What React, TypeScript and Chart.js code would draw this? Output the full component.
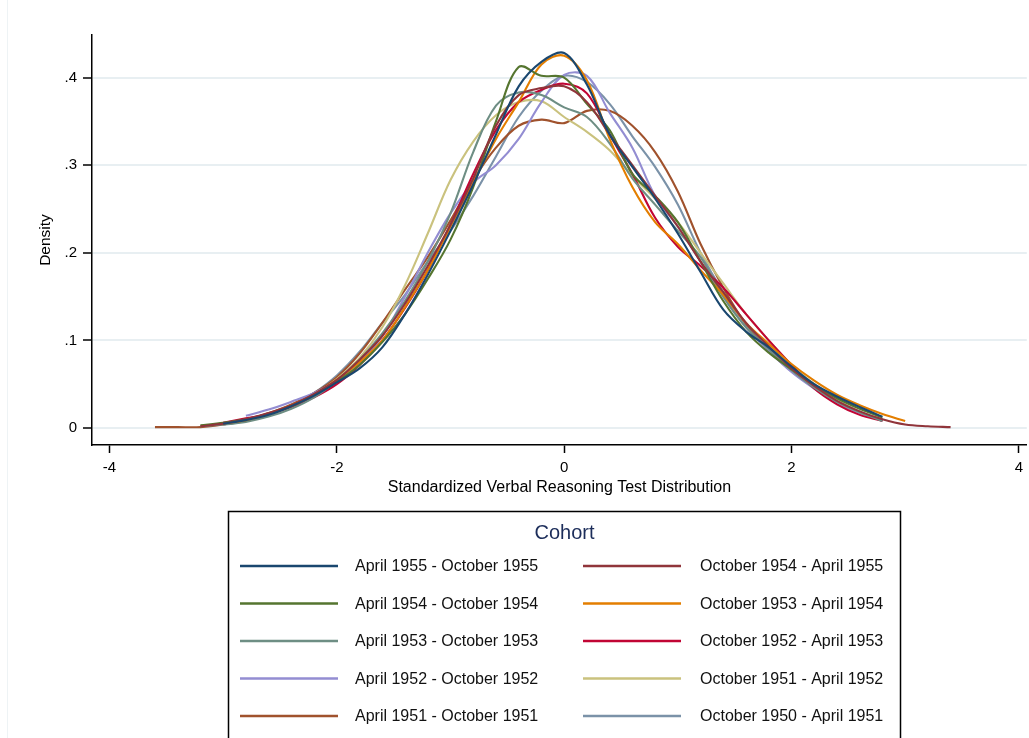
import React, { useEffect, useRef } from "react";
import { Chart, registerables } from "chart.js";

Chart.register(...registerables);

const xGrid = [
  -3.6, -3.4, -3.2, -3.0, -2.8, -2.6, -2.4, -2.2, -2.0, -1.8, -1.6, -1.4,
  -1.2, -1.0, -0.8, -0.6, -0.4, -0.2, 0.0, 0.2, 0.4, 0.6, 0.8, 1.0,
  1.2, 1.4, 1.6, 1.8, 2.0, 2.2, 2.4, 2.6, 2.8, 3.0, 3.2, 3.4,
];

const cohortLabels = [
  "April 1955 - October 1955",
  "October 1954 - April 1955",
  "April 1954 - October 1954",
  "October 1953 - April 1954",
  "April 1953 - October 1953",
  "October 1952 - April 1953",
  "April 1952 - October 1952",
  "October 1951 - April 1952",
  "April 1951 - October 1951",
  "October 1950 - April 1951",
];

const cohortColors = [
  "#1a476f", "#90353b", "#55752f", "#e37e00", "#6e8e84",
  "#c10534", "#938dd2", "#cac27e", "#a0522d", "#7b92a8",
];

const n = null;
const apr55 = [n, n, n, 0.005, 0.009, 0.015, 0.025, 0.037, 0.052, 0.068, 0.092, 0.13, 0.175, 0.225, 0.278, 0.335, 0.39, 0.418, 0.428, 0.392, 0.335, 0.298, 0.262, 0.222, 0.178, 0.135, 0.11, 0.092, 0.07, 0.05, 0.036, 0.024, 0.013, n, n, n];
const oct54 = [n, n, 0.002, 0.005, 0.01, 0.017, 0.026, 0.039, 0.055, 0.078, 0.105, 0.142, 0.185, 0.232, 0.285, 0.345, 0.38, 0.388, 0.39, 0.372, 0.335, 0.3, 0.265, 0.23, 0.19, 0.155, 0.12, 0.093, 0.068, 0.048, 0.031, 0.019, 0.01, 0.004, 0.002, 0.001];
const apr54 = [n, n, 0.003, 0.006, 0.01, 0.016, 0.025, 0.038, 0.053, 0.072, 0.098, 0.13, 0.17, 0.215, 0.275, 0.35, 0.412, 0.402, 0.4, 0.37, 0.34, 0.29, 0.265, 0.235, 0.19, 0.145, 0.11, 0.086, 0.067, 0.049, 0.034, 0.022, 0.012, n, n, n];
const oct53 = [n, n, n, 0.005, 0.009, 0.016, 0.026, 0.038, 0.055, 0.075, 0.1, 0.138, 0.18, 0.23, 0.28, 0.33, 0.372, 0.415, 0.425, 0.397, 0.33, 0.275, 0.235, 0.21, 0.18, 0.152, 0.12, 0.096, 0.073, 0.054, 0.038, 0.026, 0.016, 0.008, n, n];
const apr53 = [n, n, 0.002, 0.004, 0.007, 0.013, 0.022, 0.035, 0.054, 0.078, 0.108, 0.145, 0.19, 0.245, 0.315, 0.368, 0.383, 0.38, 0.366, 0.355, 0.325, 0.285, 0.255, 0.225, 0.195, 0.15, 0.115, 0.09, 0.066, 0.046, 0.03, 0.018, 0.008, n, n, n];
const oct52 = [n, n, n, 0.006, 0.011, 0.016, 0.024, 0.035, 0.05, 0.072, 0.1, 0.137, 0.18, 0.232, 0.29, 0.34, 0.372, 0.386, 0.393, 0.382, 0.335, 0.29, 0.24, 0.207, 0.185, 0.16, 0.13, 0.1, 0.072, 0.045, 0.027, 0.015, 0.008, n, n, n];
const apr52 = [n, n, n, n, 0.014, 0.021, 0.03, 0.04, 0.054, 0.075, 0.105, 0.15, 0.2, 0.245, 0.28, 0.3, 0.33, 0.372, 0.403, 0.402, 0.36, 0.32, 0.265, 0.23, 0.19, 0.15, 0.115, 0.088, 0.064, 0.045, 0.029, 0.017, 0.009, n, n, n];
const oct51 = [n, n, n, 0.005, 0.009, 0.016, 0.025, 0.038, 0.056, 0.08, 0.115, 0.163, 0.222, 0.283, 0.327, 0.357, 0.372, 0.373, 0.355, 0.338, 0.317, 0.288, 0.262, 0.235, 0.2, 0.165, 0.13, 0.1, 0.072, 0.05, 0.032, 0.019, 0.01, n, n, n];
const apr51 = [0.001, 0.001, 0.001, 0.004, 0.009, 0.017, 0.027, 0.04, 0.058, 0.085, 0.12, 0.158, 0.195, 0.237, 0.283, 0.32, 0.345, 0.352, 0.348, 0.362, 0.362, 0.345, 0.315, 0.27, 0.21, 0.16, 0.118, 0.088, 0.065, 0.046, 0.03, 0.018, 0.009, n, n, n];
const oct50 = [n, n, n, 0.004, 0.008, 0.015, 0.025, 0.04, 0.06, 0.087, 0.12, 0.152, 0.19, 0.225, 0.265, 0.31, 0.355, 0.385, 0.402, 0.395, 0.37, 0.333, 0.298, 0.255, 0.2, 0.155, 0.118, 0.09, 0.066, 0.047, 0.031, 0.018, 0.008, n, n, n];

const cohortSeries = [apr55, oct54, apr54, oct53, apr53, oct52, apr52, oct51, apr51, oct50];

const xTicks = [-4, -2, 0, 2, 4];
const yTicks = [0, 0.1, 0.2, 0.3, 0.4];

const FONT = "'Liberation Sans', Arial, Helvetica, sans-serif";

const legendPlugin = {
  id: "boxLegend",
  afterDraw(chart: any) {
    const ctx = chart.ctx;
    ctx.save();
    // faint outer frame line of the graph region
    ctx.strokeStyle = "#eef3f5";
    ctx.lineWidth = 1;
    ctx.beginPath();
    ctx.moveTo(7.5, 0);
    ctx.lineTo(7.5, 738);
    ctx.stroke();

    ctx.strokeStyle = "#000";
    ctx.lineWidth = 1.5;
    ctx.strokeRect(228.5, 511.5, 672, 300);

    ctx.fillStyle = "#1c2d5a";
    ctx.font = `20px ${FONT}`;
    ctx.textAlign = "center";
    ctx.textBaseline = "middle";
    ctx.fillText("Cohort", 564.5, 533);

    ctx.font = `16px ${FONT}`;
    ctx.textAlign = "left";
    chart.data.datasets.forEach((ds: any, i: number) => {
      const col = i % 2;
      const row = Math.floor(i / 2);
      const y = 566 + row * 37.5;
      const x0 = col === 0 ? 240 : 583;
      ctx.strokeStyle = ds.borderColor;
      ctx.lineWidth = 2.5;
      ctx.beginPath();
      ctx.moveTo(x0, y);
      ctx.lineTo(x0 + 98, y);
      ctx.stroke();
      ctx.fillStyle = "#111";
      ctx.fillText(ds.label, col === 0 ? 355 : 700, y + 1);
    });
    ctx.restore();
  },
};

export default function App() {
  const ref = useRef<HTMLCanvasElement | null>(null);

  useEffect(() => {
    document.body.style.margin = "0";
    const canvas = ref.current;
    if (!canvas) return;
    const datasets = cohortSeries.map((vals, i) => ({
      label: cohortLabels[i],
      data: xGrid
        .map((x, j) => ({ x, y: vals[j] }))
        .filter((p) => p.y !== null),
      borderColor: cohortColors[i],
      backgroundColor: cohortColors[i],
      borderWidth: 2.1,
      pointRadius: 0,
      fill: false,
      tension: 0.35,
    }));

    const chart = new Chart(canvas, {
      type: "line",
      data: { datasets },
      plugins: [legendPlugin],
      options: {
        animation: false,
        responsive: false,
        devicePixelRatio: 1,
        layout: { padding: { top: 35, right: 1, left: 0, bottom: 233 } },
        plugins: { legend: { display: false }, tooltip: { enabled: false } },
        scales: {
          x: {
            type: "linear",
            min: -4.154,
            max: 4.07,
            afterFit: (s: any) => {
              s.height = 60;
            },
            afterBuildTicks: (s: any) => {
              s.ticks = xTicks.map((v) => ({ value: v }));
            },
            grid: {
              drawOnChartArea: false,
              tickColor: "#000",
              tickLength: 8,
              tickWidth: 1.5,
            },
            border: { display: true, color: "#000", width: 1.5 },
            ticks: {
              color: "#000",
              font: { family: FONT, size: 15 },
              padding: 6,
              maxRotation: 0,
              callback: (v: any) => String(v),
            },
            title: {
              display: true,
              text: "Standardized Verbal Reasoning Test Distribution",
              color: "#000",
              font: { family: FONT, size: 16 },
              padding: { top: 0, bottom: 8 },
            },
          },
          y: {
            type: "linear",
            min: -0.0194,
            max: 0.4486,
            afterFit: (s: any) => {
              s.width = 92;
            },
            afterBuildTicks: (s: any) => {
              s.ticks = yTicks.map((v) => ({ value: v }));
            },
            grid: {
              color: "#e8eff2",
              lineWidth: 2,
              tickColor: "#000",
              tickLength: 9,
              tickWidth: 1.5,
            },
            border: { display: true, color: "#000", width: 1.5 },
            ticks: {
              color: "#000",
              font: { family: FONT, size: 15 },
              padding: 6,
              callback: (v: any) =>
                v === 0 ? "0" : Number(v).toFixed(1).replace(/^0/, ""),
            },
            title: {
              display: true,
              text: "Density",
              color: "#000",
              font: { family: FONT, size: 15.5 },
              padding: { top: 36, bottom: 0 },
            },
          },
        },
      },
    });
    return () => chart.destroy();
  }, []);

  return (
    <canvas
      ref={ref}
      width={1029}
      height={738}
      style={{ display: "block", width: 1029, height: 738 }}
    />
  );
}
